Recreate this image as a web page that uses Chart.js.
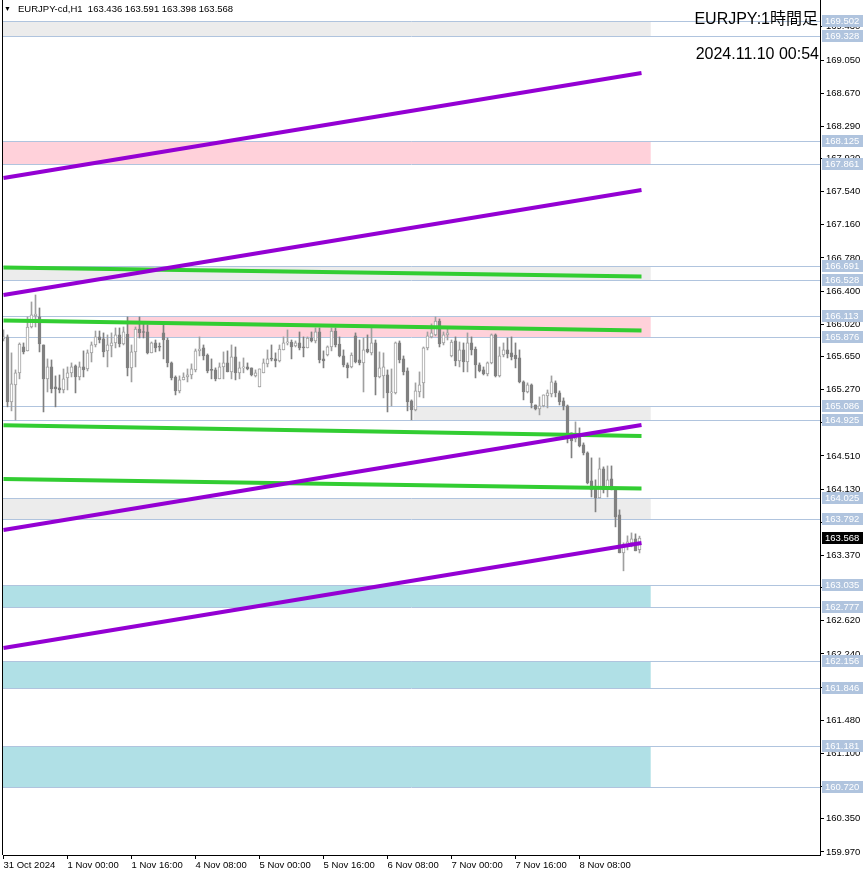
<!DOCTYPE html>
<html>
<head>
<meta charset="utf-8">
<script src="https://cdn.jsdelivr.net/npm/chart.js@4.4.1/dist/chart.umd.min.js"></script>
<style>
  html, body { margin: 0; padding: 0; background: #fff; }
</style>
</head>
<body>
<canvas id="chart" width="866" height="876"></canvas>
<script>
// EURJPY H1, 31 Oct 08:00 .. 8 Nov 23:00 (160 bars)
const opens = [165.852,165.875,165.130,165.325,165.463,165.760,165.714,165.989,166.116,166.104,
  165.783,165.394,165.531,165.302,165.290,165.267,165.405,165.463,165.543,165.416,
  165.531,165.508,165.692,165.783,165.875,165.852,165.714,165.772,165.806,165.898,
  165.794,165.909,165.520,165.703,165.966,165.932,165.932,165.692,165.806,165.760,
  165.921,165.840,165.577,165.416,165.256,165.382,165.416,165.439,165.497,165.715,
  165.749,165.668,165.497,165.497,165.394,165.531,165.577,165.474,165.646,165.463,
  165.520,165.531,165.520,165.428,165.302,165.463,165.566,165.623,165.623,165.600,
  165.726,165.806,165.817,165.772,165.806,165.760,165.749,165.863,165.829,165.932,
  165.623,165.668,165.760,165.943,165.794,165.657,165.554,165.531,165.887,165.611,
  165.577,165.737,165.692,165.806,165.416,165.428,165.439,165.233,165.233,165.806,
  165.623,165.485,165.141,165.038,165.244,165.348,165.749,165.875,165.898,166.058,
  165.806,165.898,165.657,165.829,165.600,165.726,165.588,165.806,165.737,165.554,
  165.497,165.451,165.577,165.898,165.428,165.668,165.726,165.692,165.668,165.634,
  165.359,165.244,165.325,165.095,165.050,165.084,165.199,165.221,165.348,165.233,
  165.141,165.084,164.775,164.706,164.729,164.637,164.545,164.224,164.144,164.029,
  164.362,164.121,164.247,164.121,163.835,163.399,163.491,163.514,163.560,163.436];
const highs = [165.955,165.898,165.692,165.497,165.806,165.806,166.104,166.276,166.356,166.207,
  165.783,165.623,165.611,165.428,165.439,165.508,165.531,165.577,165.554,165.588,
  165.715,165.726,165.817,165.943,165.943,165.921,165.898,165.921,165.978,165.978,
  165.989,166.104,165.783,165.989,166.104,166.035,166.012,165.817,165.840,165.806,
  166.035,165.863,165.588,165.428,165.428,165.463,165.508,165.566,165.737,165.875,
  165.783,165.680,165.623,165.520,165.577,165.703,165.715,165.783,165.760,165.588,
  165.634,165.577,165.520,165.497,165.508,165.623,165.726,165.783,165.692,165.783,
  165.875,165.955,165.840,165.829,165.932,165.875,165.875,165.932,165.978,165.978,
  165.715,165.772,165.978,165.978,165.875,165.726,165.577,165.692,165.921,165.840,
  165.863,165.898,165.978,165.840,165.703,165.692,165.497,165.508,165.817,165.829,
  165.657,165.520,165.153,165.348,165.474,165.760,165.932,166.024,166.104,166.081,
  165.932,165.966,165.840,165.875,165.817,165.806,165.921,165.875,165.760,165.577,
  165.531,165.588,165.909,165.909,165.760,165.806,165.863,165.875,165.806,165.726,
  165.371,165.348,165.336,165.095,165.187,165.210,165.267,165.428,165.371,165.256,
  165.176,165.095,164.775,164.901,164.832,164.660,164.557,164.488,164.236,164.488,
  164.385,164.396,164.396,164.133,163.892,163.514,163.594,163.628,163.617,163.591];
const lows = [165.829,165.073,165.027,164.923,165.394,165.680,165.714,165.978,165.989,165.703,
  165.015,165.244,165.233,165.073,165.233,165.233,165.267,165.416,165.233,165.382,
  165.416,165.485,165.588,165.760,165.806,165.646,165.531,165.646,165.749,165.760,
  165.783,165.428,165.359,165.531,165.863,165.863,165.680,165.692,165.703,165.714,
  165.623,165.531,165.382,165.210,165.233,165.382,165.359,165.394,165.474,165.657,
  165.611,165.463,165.394,165.371,165.394,165.394,165.474,165.394,165.382,165.394,
  165.463,165.497,165.428,165.416,165.302,165.463,165.531,165.600,165.531,165.588,
  165.726,165.783,165.623,165.760,165.726,165.646,165.749,165.817,165.806,165.577,
  165.520,165.657,165.715,165.760,165.646,165.531,165.405,165.520,165.577,165.554,
  165.244,165.692,165.668,165.210,165.405,165.176,165.015,165.084,165.221,165.577,
  165.439,165.027,164.923,165.027,165.187,165.176,165.726,165.863,165.887,165.760,
  165.783,165.840,165.646,165.543,165.531,165.474,165.474,165.668,165.405,165.474,
  165.439,165.428,165.566,165.416,165.416,165.646,165.634,165.611,165.520,165.348,
  165.153,165.233,165.061,165.038,164.981,165.073,165.061,165.187,165.187,165.095,
  165.038,164.660,164.488,164.671,164.614,164.522,164.190,164.040,163.869,164.029,
  164.086,164.040,164.121,163.697,163.399,163.193,163.433,163.468,163.422,163.398];
const closes = [165.875,165.130,165.336,165.463,165.794,165.703,165.989,166.127,166.138,165.794,
  165.394,165.531,165.279,165.279,165.267,165.394,165.463,165.531,165.416,165.531,
  165.497,165.692,165.783,165.875,165.840,165.703,165.783,165.806,165.898,165.794,
  165.932,165.520,165.703,165.966,165.921,165.926,165.692,165.806,165.749,165.757,
  165.840,165.577,165.405,165.256,165.382,165.416,165.439,165.508,165.715,165.737,
  165.657,165.485,165.491,165.394,165.531,165.577,165.474,165.646,165.463,165.520,
  165.522,165.508,165.439,165.463,165.508,165.577,165.623,165.620,165.600,165.737,
  165.806,165.817,165.760,165.806,165.749,165.749,165.863,165.829,165.932,165.611,
  165.600,165.760,165.943,165.783,165.657,165.554,165.520,165.668,165.588,165.577,
  165.726,165.703,165.806,165.416,165.520,165.531,165.233,165.244,165.806,165.611,
  165.474,165.130,165.038,165.256,165.325,165.749,165.887,165.921,166.058,165.794,
  165.898,165.921,165.817,165.600,165.726,165.588,165.806,165.726,165.554,165.485,
  165.451,165.577,165.898,165.428,165.657,165.726,165.680,165.646,165.623,165.359,
  165.244,165.325,165.118,165.050,165.084,165.210,165.233,165.359,165.233,165.130,
  165.084,164.775,164.683,164.729,164.626,164.545,164.201,164.121,164.029,164.362,
  164.121,164.236,164.121,163.812,163.399,163.491,163.525,163.560,163.422,163.568];

// time axis labels (bar index -> label)
const xTickIdx = [0, 16, 32, 48, 64, 80, 96, 112, 128, 144];
const xTickLabels = ['31 Oct 2024', '1 Nov 00:00', '1 Nov 16:00', '4 Nov 08:00', '5 Nov 00:00',
  '5 Nov 16:00', '6 Nov 08:00', '7 Nov 00:00', '7 Nov 16:00', '8 Nov 08:00'];

// price axis ticks
const yTicks = [169.430, 169.050, 168.670, 168.290, 167.920, 167.540, 167.160, 166.780, 166.400,
  166.020, 165.650, 165.270, 164.890, 164.510, 164.130, 163.750, 163.370, 163.000, 162.620,
  162.240, 161.860, 161.480, 161.100, 160.720, 160.350, 159.970];

// zones (rectangles)
const zoneTop    = [169.502, 168.125, 166.691, 166.113, 165.086, 164.025, 163.035, 162.156, 161.181];
const zoneBottom = [169.328, 167.861, 166.528, 165.876, 164.925, 163.792, 162.777, 161.846, 160.720];
const zoneStart  = [-5, -5, -5, 31, 102.5, -5, -5, -5, -5];
const zoneEnd = 161.8;
const zoneColor = ['#ececec', '#ffd1da', '#ececec', '#ffd1da', '#ececec', '#ececec', '#b0e0e6', '#b0e0e6', '#b0e0e6'];

// trend lines: value at first bar / at last bar
const lineX = [0, 159.5];
const purpleStart = [167.697, 166.356, 163.661, 162.309];
const purpleEnd   = [168.901, 167.560, 164.865, 163.512];
const greenStart  = [166.672, 166.064, 164.861, 164.247];
const greenEnd    = [166.568, 165.949, 164.740, 164.138];

const levels = zoneTop.concat(zoneBottom);
const bullColor = '#a0a0a0';
const bearColor = '#808080';
const FONT = '"Liberation Sans", Arial, sans-serif';

Chart.defaults.font.family = FONT;
Chart.defaults.font.size = 9.5;
Chart.defaults.color = '#000';

const isBull = closes.map((c, i) => c >= opens[i]);

const wickData = lows.map((l, i) => ({ x: i, y: [l, highs[i]] }));
const bodyData = opens.map((o, i) => ({ x: i, y: [o, closes[i]] }));

const datasets = [];
purpleStart.forEach((v, i) => {
  datasets.push({
    type: 'line', order: 0, borderColor: '#9400d3', borderWidth: 4, pointRadius: 0,
    data: [{ x: lineX[0], y: v }, { x: lineX[1], y: purpleEnd[i] }]
  });
});
greenStart.forEach((v, i) => {
  datasets.push({
    type: 'line', order: 0, borderColor: '#32cd32', borderWidth: 4, pointRadius: 0,
    data: [{ x: lineX[0], y: v }, { x: lineX[1], y: greenEnd[i] }]
  });
});
datasets.push({
  type: 'bar', order: 1, grouped: false, barThickness: 3, minBarLength: 1,
  borderSkipped: false, borderWidth: 1,
  backgroundColor: isBull.map(b => b ? '#ffffff' : bearColor),
  borderColor: isBull.map(b => b ? bullColor : bearColor),
  data: bodyData
});
datasets.push({
  type: 'bar', order: 2, grouped: false, barThickness: 1, borderWidth: 0,
  backgroundColor: isBull.map(b => b ? bullColor : bearColor),
  data: wickData
});

const overlay = {
  id: 'overlay',
  beforeDatasetsDraw(chart) {
    const { ctx, chartArea: a, scales: { x, y } } = chart;
    ctx.save();
    ctx.beginPath();
    ctx.rect(a.left, a.top, a.width, a.height);
    ctx.clip();
    zoneTop.forEach((t, i) => {
      const x0 = Math.max(a.left, x.getPixelForValue(zoneStart[i]));
      const x1 = x.getPixelForValue(zoneEnd);
      const y0 = Math.round(y.getPixelForValue(t));
      const y1 = Math.round(y.getPixelForValue(zoneBottom[i]));
      ctx.fillStyle = zoneColor[i];
      ctx.fillRect(x0, y0, x1 - x0, y1 - y0);
    });
    ctx.strokeStyle = '#b0c4de';
    ctx.lineWidth = 1;
    levels.forEach(v => {
      const py = Math.round(y.getPixelForValue(v)) + 0.5;
      ctx.beginPath();
      ctx.moveTo(a.left, py);
      ctx.lineTo(a.right, py);
      ctx.stroke();
    });
    ctx.restore();
  },
  afterDraw(chart) {
    const { ctx, chartArea: a, scales: { y } } = chart;
    ctx.save();
    // left frame
    ctx.fillStyle = '#000';
    ctx.fillRect(a.left - 1, 0, 1, a.bottom);

    // level price tags
    ctx.font = '9.5px ' + FONT;
    ctx.textBaseline = 'middle';
    ctx.textAlign = 'left';
    levels.forEach(v => {
      const py = Math.round(y.getPixelForValue(v));
      ctx.fillStyle = '#b0c4de';
      ctx.fillRect(a.right + 2, py - 6, 41, 12);
      ctx.fillStyle = '#ffffff';
      ctx.fillText(v.toFixed(3), a.right + 5, py + 0.5);
    });
    const last = closes[closes.length - 1];
    const ly = Math.round(y.getPixelForValue(last));
    ctx.fillStyle = '#000';
    ctx.fillRect(a.right + 2, ly - 6, 41, 12);
    ctx.fillStyle = '#fff';
    ctx.fillText(last.toFixed(3), a.right + 5, ly + 0.5);

    // header
    const n = closes.length - 1;
    ctx.fillStyle = '#000';
    ctx.font = '7px ' + FONT;
    ctx.fillText('\u25BC', 4, 9);
    ctx.font = '9.5px ' + FONT;
    ctx.fillText('EURJPY-cd,H1  ' + [opens[n], highs[n], lows[n], closes[n]].map(v => v.toFixed(3)).join(' '), 18, 9.5);

    // title
    ctx.textAlign = 'right';
    ctx.font = '16px ' + FONT + ', "Noto Sans CJK JP"';
    ctx.fillText('EURJPY:1時間足', 818, 20);
    ctx.fillText('2024.11.10 00:54', 819, 55);
    ctx.restore();
  }
};

new Chart(document.getElementById('chart'), {
  type: 'bar',
  data: { datasets: datasets },
  options: {
    responsive: false,
    animation: false,
    layout: { padding: { left: 3, top: 0, right: 0, bottom: 0 } },
    plugins: { legend: { display: false }, tooltip: { enabled: false } },
    scales: {
      x: {
        type: 'linear', min: -0.125, max: 204.125, offset: false,
        grid: { drawOnChartArea: false, offset: false, tickLength: 4, tickColor: '#000' },
        border: { color: '#000', width: 1 },
        ticks: {
          align: 'start', autoSkip: false, maxRotation: 0, padding: 1,
          callback: v => { const k = xTickIdx.indexOf(v); return k >= 0 ? xTickLabels[k] : ''; }
        },
        afterBuildTicks: s => { s.ticks = xTickIdx.map(v => ({ value: v })); },
        afterFit: s => { s.height = 21; s.paddingLeft = 0; s.paddingRight = 0; }
      },
      y: {
        type: 'linear', position: 'right', min: 159.935, max: 169.738,
        grid: { drawOnChartArea: false, tickLength: 4, tickColor: '#000' },
        border: { color: '#000', width: 1 },
        ticks: { padding: 2, callback: v => v.toFixed(3) },
        afterBuildTicks: s => { s.ticks = yTicks.map(v => ({ value: v })); },
        afterFit: s => { s.width = 46; s.paddingTop = 0; s.paddingBottom = 0; }
      }
    }
  },
  plugins: [overlay]
});
</script>
</body>
</html>
